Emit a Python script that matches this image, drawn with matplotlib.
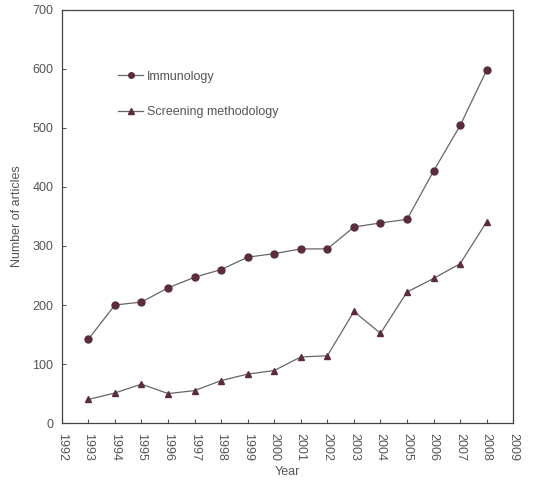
import numpy as np
import matplotlib
matplotlib.use('Agg')
import matplotlib.pyplot as plt

plt.rcParams['font.family'] = ['Liberation Sans', 'DejaVu Sans']

years = [1993, 1994, 1995, 1996, 1997, 1998, 1999, 2000, 2001, 2002,
         2003, 2004, 2005, 2006, 2007, 2008]
immunology = [142, 200, 205, 229, 247, 260, 281, 287, 295, 295,
              332, 339, 345, 427, 504, 598]
screening = [40, 51, 66, 50, 55, 72, 83, 89, 112, 114,
             189, 152, 222, 245, 270, 341]

txt = '#555555'
mk = '#5a2c3c'

fig = plt.figure(figsize=(5.42, 4.88), dpi=100)
ax = fig.add_axes([0.114, 0.133, 0.833, 0.847])

ax.plot(years, immunology, color='#666666', lw=0.9, marker='o', ms=5,
        mfc=mk, mec=mk, label='Immunology')
ax.plot(years, screening, color='#666666', lw=0.9, marker='^', ms=5,
        mfc=mk, mec=mk, label='Screening methodology')

ax.set_xlim(1992, 2009)
ax.set_ylim(0, 700)
ax.set_xticks(range(1992, 2010))
ax.set_yticks(range(0, 701, 100))
ax.tick_params(axis='x', direction='in', labelrotation=270, labelsize=9,
               colors=txt, length=3, pad=7)
ax.tick_params(axis='y', direction='in', labelsize=9, colors=txt, length=3,
               pad=6)
for s in ax.spines.values():
    s.set_color('#444444')
    s.set_linewidth(0.9)

ax.set_xlabel('Year', color=txt, fontsize=9, labelpad=4)
ax.set_ylabel('Number of articles', color=txt, fontsize=9, labelpad=7)

leg = ax.legend(loc='upper left', bbox_to_anchor=(0.1, 0.88), frameon=False,
                fontsize=9, labelspacing=1.9, handlelength=2.0,
                handletextpad=0.3, markerscale=0.8)
for t in leg.get_texts():
    t.set_color(txt)

fig.savefig('out.png', dpi=100)
